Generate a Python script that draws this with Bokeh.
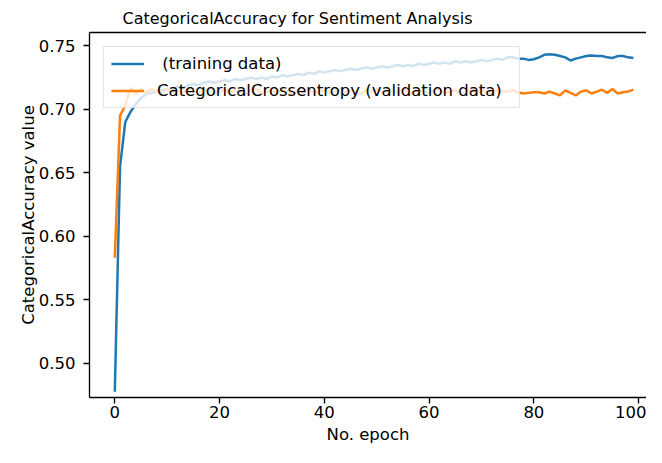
from bokeh.plotting import figure
from bokeh.models import Range1d, FixedTicker, LinearAxis, Legend, LegendItem, PrintfTickFormatter
from bokeh.embed import file_html
from bokeh.resources import INLINE

epochs = list(range(100))

train_acc = [
    0.4774, 0.655, 0.690, 0.698, 0.704, 0.709, 0.712, 0.713, 0.714, 0.715,
    0.716, 0.716, 0.718, 0.717, 0.719, 0.720, 0.719, 0.721, 0.722, 0.721,
    0.722, 0.723, 0.722, 0.724, 0.723, 0.724, 0.725, 0.724, 0.725, 0.724,
    0.726, 0.725, 0.727, 0.726, 0.727, 0.728, 0.727, 0.729, 0.728, 0.730,
    0.729, 0.730, 0.731, 0.730, 0.731, 0.732, 0.731, 0.732, 0.733, 0.732,
    0.733, 0.734, 0.733, 0.734, 0.735, 0.734, 0.735, 0.734, 0.736, 0.735,
    0.736, 0.737, 0.736, 0.737, 0.736, 0.738, 0.737, 0.738, 0.737, 0.738,
    0.739, 0.738, 0.739, 0.740, 0.739, 0.741, 0.741, 0.740, 0.740, 0.739,
    0.7395, 0.741, 0.743, 0.7435, 0.743, 0.742, 0.741, 0.7385, 0.740, 0.741,
    0.742, 0.7425, 0.742, 0.742, 0.741, 0.7405, 0.742, 0.742, 0.741, 0.7405,
]

val_acc = [
    0.583, 0.695, 0.703, 0.717, 0.712, 0.716, 0.713, 0.716, 0.714, 0.713,
    0.716, 0.714, 0.715, 0.713, 0.716, 0.714, 0.713, 0.715, 0.716, 0.713,
    0.714, 0.716, 0.713, 0.715, 0.714, 0.712, 0.715, 0.716, 0.713, 0.714,
    0.715, 0.713, 0.716, 0.714, 0.712, 0.715, 0.714, 0.716, 0.713, 0.714,
    0.715, 0.713, 0.714, 0.716, 0.713, 0.715, 0.714, 0.712, 0.715, 0.714,
    0.716, 0.713, 0.714, 0.715, 0.713, 0.716, 0.714, 0.712, 0.715, 0.714,
    0.713, 0.715, 0.716, 0.713, 0.714, 0.715, 0.712, 0.714, 0.716, 0.713,
    0.715, 0.714, 0.713, 0.715, 0.714, 0.714, 0.715, 0.7135, 0.7125, 0.713,
    0.7135, 0.7135, 0.7125, 0.714, 0.7125, 0.711, 0.715, 0.713, 0.711, 0.714,
    0.715, 0.7125, 0.714, 0.7155, 0.713, 0.716, 0.7125, 0.7135, 0.714, 0.7155,
]

x_ticks = [0, 20, 40, 60, 80, 100]
y_ticks = [0.50, 0.55, 0.60, 0.65, 0.70, 0.75]

label_train = " (training data)"
label_val = "CategoricalCrossentropy (validation data)"
title_text = "CategoricalAccuracy for Sentiment Analysis"

FONT = "DejaVu Sans"
FS = "16.5px"

p = figure(
    width=646, height=447,
    output_backend="svg", toolbar_location=None,
    x_range=Range1d(-4.83, 101.5), y_range=Range1d(0.4728, 0.7606),
    min_border_left=89, min_border_right=0, min_border_top=32, min_border_bottom=50,
)

p.title.text = title_text
p.title.align = "left"
p.title.offset = 33
p.title.text_font = FONT
p.title.text_font_size = "16px"
p.title.text_font_style = "normal"
p.title.text_color = "black"

p.outline_line_color = None
p.xgrid.visible = False
p.ygrid.visible = False

r1 = p.line(epochs, train_acc, line_color="#1f77b4", line_width=2.5)
r2 = p.line(epochs, val_acc, line_color="#ff7f0e", line_width=2.5)

p.xaxis.ticker = FixedTicker(ticks=x_ticks)
p.yaxis.ticker = FixedTicker(ticks=y_ticks)
p.yaxis.formatter = PrintfTickFormatter(format="%.2f")
p.xaxis.axis_label = "No. epoch"
p.yaxis.axis_label = "CategoricalAccuracy value"

for ax in [p.xaxis[0], p.yaxis[0]]:
    ax.axis_line_width = 1.33
    ax.axis_line_color = "black"
    ax.major_tick_out = 6
    ax.major_tick_in = 0
    ax.minor_tick_out = 0
    ax.minor_tick_in = 0
    ax.major_tick_line_width = 1.33
    ax.major_tick_line_color = "black"
    ax.major_label_text_font = FONT
    ax.major_label_text_font_size = FS
    ax.major_label_text_color = "black"
    ax.axis_label_text_font = FONT
    ax.axis_label_text_font_size = FS
    ax.axis_label_text_font_style = "normal"
    ax.axis_label_text_color = "black"

p.xaxis.major_label_standoff = 2
p.xaxis.axis_label_standoff = 4
p.yaxis.major_label_standoff = 8
p.yaxis.axis_label_standoff = -2

top = LinearAxis(ticker=FixedTicker(ticks=[]), major_label_text_font_size="0px",
                 axis_line_width=1.33, axis_line_color="black",
                 major_tick_out=0, minor_tick_out=0, major_tick_in=0, minor_tick_in=0)
p.add_layout(top, "above")

legend = Legend(
    items=[LegendItem(label=label_train, renderers=[r1]),
           LegendItem(label=label_val, renderers=[r2])],
    location="top_left",
)
legend.margin = 14
legend.padding = 7
legend.spacing = 8
legend.glyph_width = 33
legend.glyph_height = 19
legend.label_height = 19
legend.label_width = 355
legend.label_standoff = 13
legend.label_text_font = FONT
legend.label_text_font_size = FS
legend.label_text_color = "black"
legend.border_line_color = "#cccccc"
legend.border_line_width = 1
legend.background_fill_color = "white"
legend.background_fill_alpha = 0.8
p.add_layout(legend)

open("out.html", "w").write(file_html(p, INLINE))
